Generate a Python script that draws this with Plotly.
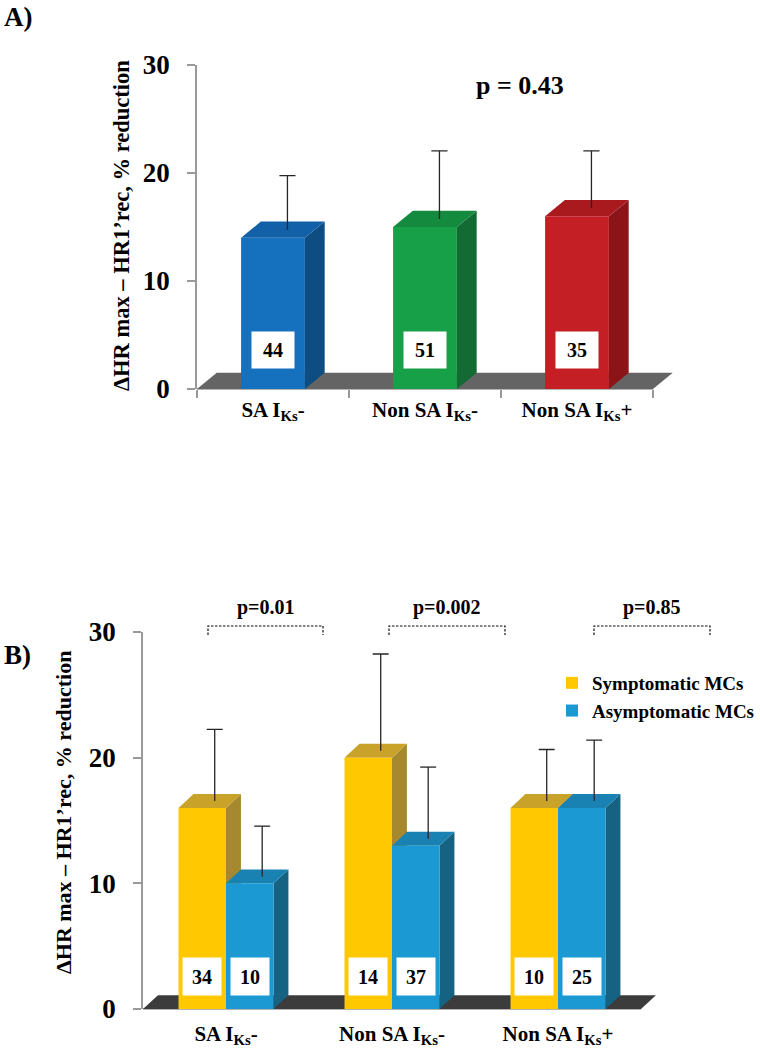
import plotly.graph_objects as go

# ---------------- data ----------------
categories = ["SA I<sub>Ks</sub>-", "Non SA I<sub>Ks</sub>-", "Non SA I<sub>Ks</sub>+"]

# Panel A
a_means = [14.0, 15.0, 16.0]
a_sd = [5.0, 6.3, 5.3]
a_n = [44, 51, 35]
a_pvalue = "p = 0.43"

# Panel B
b_series = ["Symptomatic MCs", "Asymptomatic MCs"]
b_sympt_means = [16.0, 20.0, 16.0]
b_sympt_sd = [5.7, 7.7, 4.1]
b_sympt_n = [34, 14, 10]
b_asympt_means = [10.0, 13.0, 16.0]
b_asympt_sd = [4.0, 5.7, 4.85]
b_asympt_n = [10, 37, 25]
b_pvalues = ["p=0.01", "p=0.002", "p=0.85"]

y_ticks = [0, 10, 20, 30]
y_title = "ΔHR max – HR1’rec, % reduction"

# ---------------- style / layout constants ----------------
FONT = "Liberation Serif, Times New Roman, Times, serif"
W, H = 760, 1050
AXIS_GRAY = "#9a9a9a"


def fx(px):
    return px / W


def fy(py):
    return 1 - py / H


xpos = list(range(len(categories)))

# panel A geometry (pixels)
A_LEFT, A_UNIT = 197, 152.0
A_XR = [-0.5, 2.65]
A_TOP, A_BOT = 65, 389
A_W = 0.42
A_DX, A_DY = 0.13, 1.5
A_EX, A_CW = 0.095, 0.053
a_faces = [("#1570BD", "#1261A8", "#0E4D82"),
           ("#17A048", "#138A3D", "#146A33"),
           ("#C41F25", "#A91A1F", "#8A1418")]

# panel B geometry
B_LEFT, B_UNIT = 143, 166.0
B_XR = [-0.5, 2.6]
B_TOP, B_BOT = 632, 1009
B_W = 0.286
B_DX, B_DY = 0.09, 1.1
B_EX, B_CW = 0.075, 0.048
yel = ("#FFC800", "#C9A22A", "#A6882E")
blu = ("#1B99D2", "#1A82B2", "#166283")

fig = go.Figure()
shapes = []
annotations = []


def box_faces(x0, x1, v, dx, dy, top_c, side_c, xr, yr):
    top = dict(type="path", xref=xr, yref=yr, layer="below", line=dict(width=0),
               fillcolor=top_c,
               path=f"M{x0},{v} L{x1},{v} L{x1+dx},{v+dy} L{x0+dx},{v+dy} Z")
    side = dict(type="path", xref=xr, yref=yr, layer="below", line=dict(width=0),
                fillcolor=side_c,
                path=f"M{x1},0 L{x1},{v} L{x1+dx},{v+dy} L{x1+dx},{dy} Z")
    return [side, top]


def floor(dx, dy, color, xr, yr):
    return dict(type="path", xref=xr, yref=yr, layer="below", line=dict(width=0),
                fillcolor=color,
                path=f"M-0.5,0 L2.5,0 L{2.5+dx},{dy} L{-0.5+dx},{dy} Z")


def err_trace(xs, offs, means, sds, ex, ey, cw, xa, ya):
    X, Y = [], []
    for x, o, m, s in zip(xs, offs, means, sds):
        xb = x + o + ex
        yb = m + ey
        yt = yb + s
        X += [xb, xb, None, xb - cw, xb + cw, None]
        Y += [yb, yt, None, yt, yt, None]
    return go.Scatter(x=X, y=Y, mode="lines", line=dict(color="#262626", width=1.3),
                      xaxis=xa, yaxis=ya, showlegend=False, hoverinfo="skip")


def txt(x, y, text, size, xref="paper", yref="paper", **kw):
    d = dict(x=x, y=y, xref=xref, yref=yref, text=text, showarrow=False,
             xanchor="center", yanchor="middle",
             font=dict(family=FONT, size=size, color="black"))
    d.update(kw)
    return d


# ---------- Panel A ----------
shapes.append(dict(type="line", xref="x", yref="y domain", x0=-0.5, x1=2.5, y0=0, y1=0,
                   line=dict(color=AXIS_GRAY, width=1.5), layer="below"))
shapes.append(floor(A_DX, A_DY, "#646464", "x", "y"))
for x, m, (fc, tc, sc) in zip(xpos, a_means, a_faces):
    shapes += box_faces(x - A_W / 2, x + A_W / 2, m, A_DX, A_DY, tc, sc, "x", "y")

fig.add_trace(go.Bar(x=xpos, y=a_means, width=A_W, offset=-A_W / 2,
                     marker=dict(color=[f[0] for f in a_faces], line=dict(width=0)),
                     xaxis="x", yaxis="y", showlegend=False, hoverinfo="skip"))
fig.add_trace(err_trace(xpos, [0, 0, 0], a_means, a_sd, A_EX, A_DY / 2, A_CW, "x", "y"))

for x, n in zip(xpos, a_n):
    annotations.append(txt(x, 3.6, f"<b>{n}</b>", 20, xref="x", yref="y",
                           bgcolor="white", width=42, height=36, borderpad=0))

annotations.append(txt(fx(520), fy(85), f"<b>{a_pvalue}</b>", 26))
annotations.append(txt(fx(2), fy(17), "<b>A)</b>", 27, xanchor="left"))
annotations.append(txt(fx(121), fy(226), f"<b>{y_title}</b>", 22.5, textangle=-90))

# ---------- Panel B ----------
shapes.append(dict(type="line", xref="x2", yref="y2 domain", x0=-0.5, x1=2.5, y0=0, y1=0,
                   line=dict(color=AXIS_GRAY, width=1.5), layer="below"))
shapes.append(floor(B_DX, B_DY, "#3c3c3c", "x2", "y2"))
for x, m in zip(xpos, b_sympt_means):
    shapes += box_faces(x - B_W, x, m, B_DX, B_DY, yel[1], yel[2], "x2", "y2")
for x, m in zip(xpos, b_asympt_means):
    shapes += box_faces(x, x + B_W, m, B_DX, B_DY, blu[1], blu[2], "x2", "y2")

fig.add_trace(go.Bar(name=b_series[0], x=xpos, y=b_sympt_means, width=B_W, offset=-B_W,
                     marker=dict(color=yel[0], line=dict(width=0)),
                     xaxis="x2", yaxis="y2", hoverinfo="skip"))
fig.add_trace(go.Bar(name=b_series[1], x=xpos, y=b_asympt_means, width=B_W, offset=0,
                     marker=dict(color=blu[0], line=dict(width=0)),
                     xaxis="x2", yaxis="y2", hoverinfo="skip"))
fig.add_trace(err_trace(xpos, [-B_W / 2] * 3, b_sympt_means, b_sympt_sd, B_EX, B_DY / 2, B_CW, "x2", "y2"))
fig.add_trace(err_trace(xpos, [B_W / 2] * 3, b_asympt_means, b_asympt_sd, B_EX, B_DY / 2, B_CW, "x2", "y2"))

for x, n1, n2 in zip(xpos, b_sympt_n, b_asympt_n):
    for xo, n in ((-B_W / 2, n1), (B_W / 2, n2)):
        annotations.append(txt(x + xo, 2.55, f"<b>{n}</b>", 20, xref="x2", yref="y2",
                               bgcolor="white", width=38, height=37, borderpad=0))

# significance brackets (pixel spans, drawn in paper coordinates so they are not clipped)
bracket_px = [(208, 323), (389, 505), (594, 710)]
for (p0, p1), ptxt in zip(bracket_px, b_pvalues):
    shapes.append(dict(type="path", xref="paper", yref="paper",
                       path=f"M{fx(p0)},{fy(635)} L{fx(p0)},{fy(626)} L{fx(p1)},{fy(626)} L{fx(p1)},{fy(635)}",
                       line=dict(color="#111111", width=1.2, dash="2.5px,1.5px")))
    annotations.append(txt(fx((p0 + p1) / 2), fy(607), f"<b>{ptxt}</b>", 20))

annotations.append(txt(fx(2), fy(655), "<b>B)</b>", 27, xanchor="left"))
annotations.append(txt(fx(63), fy(813), f"<b>{y_title}</b>", 22, textangle=-90))

tickfont = dict(family=FONT, size=27, color="black", weight="bold")
xtickfont = dict(family=FONT, size=21, color="black", weight="bold")

yaxis_common = dict(range=[0, 30], tickvals=y_ticks, showline=True, linecolor=AXIS_GRAY,
                    linewidth=1.5, ticks="outside", ticklen=8, tickcolor=AXIS_GRAY, tickwidth=1.5,
                    showgrid=False, zeroline=False, tickfont=tickfont, ticklabelstandoff=12,
                    fixedrange=True, automargin=False)

fig.update_layout(
    width=W, height=H, margin=dict(l=0, r=0, t=0, b=0, autoexpand=False),
    paper_bgcolor="white", plot_bgcolor="white", barmode="overlay",
    xaxis=dict(domain=[fx(A_LEFT), fx(A_LEFT + (A_XR[1] - A_XR[0]) * A_UNIT)], range=A_XR,
               tickvals=xpos, ticktext=categories, ticks="", showline=False, showgrid=False,
               zeroline=False, tickfont=xtickfont, ticklabelstandoff=6, automargin=False,
               minor=dict(tickvals=[-0.5, 0.5, 1.5, 2.5], ticks="outside", ticklen=8,
                          tickcolor=AXIS_GRAY, tickwidth=1.5, showgrid=False),
               anchor="y", fixedrange=True),
    yaxis=dict(domain=[fy(A_BOT), fy(A_TOP)], anchor="x", **yaxis_common),
    xaxis2=dict(domain=[fx(B_LEFT), fx(B_LEFT + (B_XR[1] - B_XR[0]) * B_UNIT)], range=B_XR,
                tickvals=xpos, ticktext=categories, ticks="", showline=False, showgrid=False,
                zeroline=False, tickfont=xtickfont, ticklabelstandoff=10, anchor="y2",
                automargin=False, fixedrange=True),
    yaxis2=dict(domain=[fy(B_BOT), fy(B_TOP)], anchor="x2", **yaxis_common),
    shapes=shapes, annotations=annotations,
    showlegend=True,
    legend=dict(x=fx(552), y=fy(664), xanchor="left", yanchor="top",
                font=dict(family=FONT, size=19, color="black", weight="bold"),
                bgcolor="rgba(0,0,0,0)", tracegroupgap=0, traceorder="normal"),
)

fig.write_html("out.html", config={"displayModeBar": False},
               post_script="document.body.style.margin='0';document.body.style.overflow='hidden';")
